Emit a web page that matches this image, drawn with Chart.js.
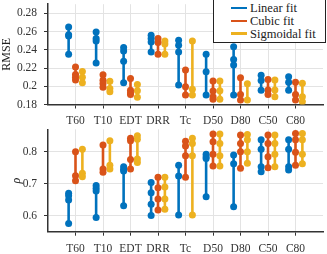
<!DOCTYPE html>
<html>
<head>
<meta charset="utf-8">
<script src="https://cdn.jsdelivr.net/npm/chart.js@4.4.1/dist/chart.umd.min.js"></script>
<style>
    html, body { margin: 0; padding: 0; background: #fff; }
    #wrap { position: relative; width: 327px; height: 254px; overflow: hidden; }
    #rmseChart { position: absolute; left: 0; top: 0; }
    #rhoChart { position: absolute; left: 0; top: 125px; }
    #legend {
        position: absolute; left: 213px; top: -1px; width: 111px; height: 40px;
        background: #fff; border: 1.3px solid #222; padding-top: 2px;
        font-family: "Liberation Serif", serif; font-size: 12.5px; color: #222;
    }
    #legend .row { height: 12.8px; line-height: 12.8px; white-space: nowrap; padding-left: 17px; }
    #legend .swatch { display: inline-block; width: 16px; height: 2.5px; vertical-align: middle; margin-right: 3px; position: relative; top: -1px; }
</style>
</head>
<body>
<div id="wrap">
    <canvas id="rmseChart" width="327" height="127"></canvas>
    <canvas id="rhoChart" width="327" height="129"></canvas>
    <div id="legend"></div>
</div>
<script>
// Categories (x tick labels)
const categories = ['T60', 'T10', 'EDT', 'DRR', 'Tc', 'D50', 'D80', 'C50', 'C80'];
const seriesNames = ['Linear fit', 'Cubic fit', 'Sigmoidal fit'];

// Y tick labels
const rmseTicks = [0.18, 0.2, 0.22, 0.24, 0.26, 0.28];
const rhoTicks = [0.6, 0.7, 0.8];

// RMSE values per category
const rmseLinear = [
    [0.265, 0.2565, 0.255, 0.235], [0.2596, 0.2523, 0.2497, 0.2254], [0.2425, 0.2388, 0.2275, 0.2038],
    [0.256, 0.2523, 0.2486, 0.2377], [0.2505, 0.245, 0.2377, 0.2013], [0.2352, 0.2159, 0.1904],
    [0.2432, 0.2294, 0.2232, 0.1904], [0.2122, 0.2064, 0.1955], [0.2104, 0.2043, 0.1955]
];
const rmseCubic = [
    [0.221, 0.2128, 0.21, 0.2068], [0.2125, 0.2065, 0.203, 0.199], [0.2086, 0.1955, 0.193, 0.1911],
    [0.2523, 0.248, 0.2352], [0.2177, 0.1995, 0.1904], [0.2057, 0.1948, 0.1885, 0.1857],
    [0.2093, 0.1911, 0.1849], [0.2075, 0.1958, 0.1911], [0.2043, 0.1911, 0.1849]
];
const rmseSigmoidal = [
    [0.2163, 0.21, 0.2038], [0.2055, 0.1975, 0.194], [0.202, 0.195, 0.1879],
    [0.2497, 0.2464, 0.2352], [0.2497, 0.1966, 0.1904], [0.2057, 0.195, 0.1857],
    [0.2027, 0.1849], [0.2068, 0.1958, 0.1885], [0.2032, 0.1885, 0.183]
];

// Correlation (rho) values per category
const rhoLinear = [
    [0.67, 0.6625, 0.649, 0.576], [0.694, 0.686, 0.677, 0.594], [0.753, 0.745, 0.74, 0.631],
    [0.704, 0.672, 0.636, 0.601], [0.758, 0.724, 0.602], [0.792, 0.784, 0.779, 0.659],
    [0.79, 0.762, 0.628], [0.837, 0.808, 0.753, 0.737], [0.837, 0.808, 0.753, 0.743]
];
const rhoCubic = [
    [0.8, 0.725, 0.709], [0.821, 0.746, 0.736], [0.842, 0.834, 0.776, 0.746],
    [0.72, 0.6875, 0.652, 0.618], [0.833, 0.818, 0.787, 0.72], [0.855, 0.831, 0.792, 0.755],
    [0.852, 0.826, 0.8, 0.748], [0.852, 0.826, 0.784, 0.75], [0.857, 0.837, 0.798, 0.758]
];
const rhoSigmoidal = [
    [0.8075, 0.7325, 0.722], [0.834, 0.758, 0.746], [0.85, 0.839, 0.777, 0.766],
    [0.72, 0.69, 0.652, 0.62], [0.842, 0.826, 0.787, 0.602], [0.855, 0.826, 0.787, 0.755],
    [0.854, 0.837, 0.8, 0.764], [0.852, 0.826, 0.792, 0.753], [0.857, 0.837, 0.792, 0.762]
];

const colors = ['#0072BD', '#D95319', '#EDB120'];
const offsets = [-0.25, 0, 0.25];
const fontFamily = '"Liberation Serif", serif';

// one point per value, a null between categories breaks the line
function buildPoints(groups, offset) {
    const pts = [];
    groups.forEach((vals, i) => {
        vals.forEach(v => pts.push({ x: i + 1 + offset, y: v }));
        pts.push({ x: i + 1 + offset, y: null });
    });
    return pts;
}

function makeChart(id, seriesData, yMin, yMax, yTicks, title, opts) {
    return new Chart(document.getElementById(id), {
        type: 'scatter',
        data: {
            datasets: seriesData.map((groups, s) => ({
                label: seriesNames[s],
                data: buildPoints(groups, offsets[s]),
                showLine: true,
                spanGaps: false,
                borderColor: colors[s],
                backgroundColor: colors[s],
                borderWidth: 2.6,
                pointRadius: 3.5,
                pointBorderWidth: 0,
                pointBackgroundColor: colors[s]
            }))
        },
        options: {
            responsive: false,
            animation: false,
            devicePixelRatio: 1,
            layout: { padding: { top: opts.top, right: 2, left: 0, bottom: 0 } },
            plugins: { legend: { display: false }, tooltip: { enabled: false } },
            scales: {
                x: {
                    type: 'linear', min: 0, max: 10,
                    afterBuildTicks: scale => { scale.ticks = categories.map((c, i) => ({ value: i + 1 })); },
                    afterFit: scale => { scale.height = opts.xHeight; scale.paddingLeft = 0; scale.paddingRight = 0; },
                    grid: { color: '#e3e3e3', lineWidth: 1, tickColor: '#333', tickLength: 4 },
                    border: { color: '#333', width: 1.5 },
                    ticks: {
                        color: '#333', padding: 6, maxRotation: 0, autoSkip: false,
                        font: { family: fontFamily, size: 11.5 },
                        callback: v => categories[Math.round(v) - 1] || ''
                    }
                },
                y: {
                    min: yMin, max: yMax,
                    afterBuildTicks: scale => { scale.ticks = yTicks.map(v => ({ value: v })); },
                    afterFit: scale => { scale.width = 48; scale.paddingTop = 0; scale.paddingBottom = 0; },
                    grid: { color: '#e3e3e3', lineWidth: 1, tickColor: '#333', tickLength: 4 },
                    border: { color: '#333', width: 1.5 },
                    ticks: {
                        color: '#333', padding: 7,
                        font: { family: fontFamily, size: 11.5 },
                        callback: v => String(parseFloat(v.toFixed(2)))
                    },
                    title: {
                        display: true, text: title, color: '#222',
                        padding: { top: opts.titlePad, bottom: 0 },
                        font: { family: fontFamily, size: 12, style: opts.titleStyle, lineHeight: 1 }
                    }
                }
            }
        }
    });
}

makeChart('rmseChart', [rmseLinear, rmseCubic, rmseSigmoidal], 0.18, 0.29, rmseTicks, 'RMSE',
    { top: 4.2, xHeight: 22.5, titlePad: 1, titleStyle: 'normal' });
makeChart('rhoChart', [rhoLinear, rhoCubic, rhoSigmoidal], 0.55, 0.87, rhoTicks, 'ρ',
    { top: 4.3, xHeight: 22.3, titlePad: 11, titleStyle: 'italic' });

// Legend
document.getElementById('legend').innerHTML = seriesNames.map((name, s) =>
    `<div class="row"><span class="swatch" style="background:${colors[s]}"></span>${name}</div>`
).join('');
</script>
</body>
</html>
